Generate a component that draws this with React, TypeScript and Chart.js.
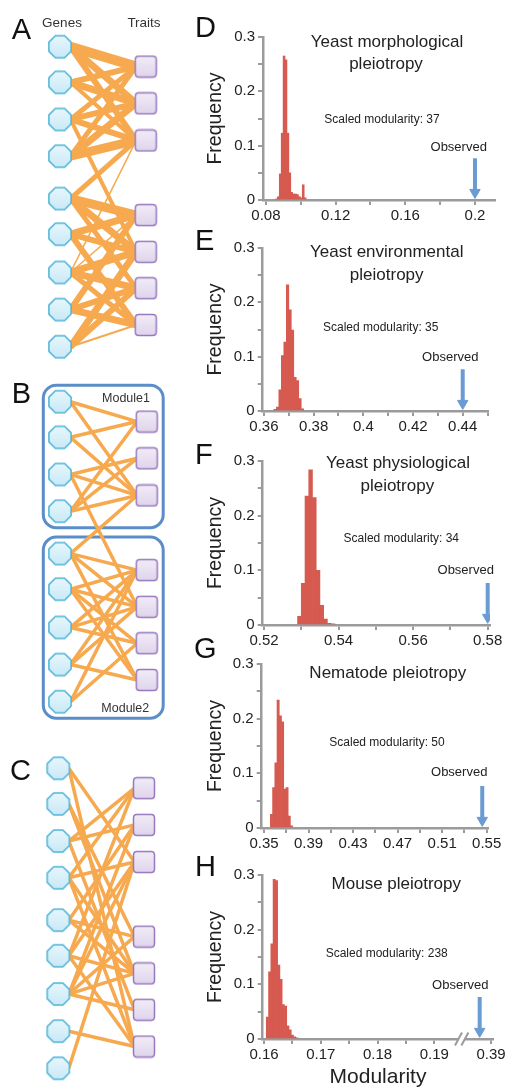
import React, { useEffect, useRef } from 'react';
import { Chart, registerables } from 'chart.js';

Chart.register(...registerables);

const FONT = '"Liberation Sans", Arial, Helvetica, sans-serif';
Chart.defaults.font.family = FONT;

// ---------------- Network data (panels A, B, C) ----------------
const geneSlots = [0, 0.95, 1.94, 2.92, 4.05, 5.0, 6.02, 7.01, 8.0];
const traitSlots = [0.53, 1.51, 2.5, 4.49, 5.47, 6.44, 7.42];

// [gene, trait, weight]
const edgesA = [
  [0, 0, 10], [0, 1, 7], [0, 2, 6],
  [1, 0, 6], [1, 1, 7], [1, 2, 4],
  [2, 0, 5], [2, 1, 6], [2, 2, 6], [2, 4, 4],
  [3, 0, 5], [3, 1, 7], [3, 2, 9],
  [4, 2, 5], [4, 3, 9], [4, 4, 7], [4, 5, 5],
  [5, 3, 7], [5, 4, 6], [5, 6, 6],
  [6, 2, 1.5], [6, 3, 1.5], [6, 4, 7], [6, 5, 7], [6, 6, 5],
  [7, 3, 6], [7, 5, 6], [7, 6, 7],
  [8, 4, 7], [8, 5, 6], [8, 6, 2],
];
// [gene, trait]
const edgesB = [
  [0, 0], [0, 2], [1, 0], [1, 2], [2, 1], [2, 2], [2, 4], [3, 0], [3, 1], [3, 2],
  [4, 2], [4, 3], [4, 4], [4, 6],
  [5, 3], [5, 4], [5, 5], [5, 6],
  [6, 3], [6, 4], [6, 5],
  [7, 3], [7, 4], [7, 6],
  [8, 3], [8, 5],
];
const edgesC = [
  [0, 2], [0, 6],
  [1, 3], [1, 4],
  [2, 0], [2, 1], [2, 5],
  [3, 0], [3, 2], [3, 4], [3, 6],
  [4, 1], [4, 3], [4, 4],
  [5, 0], [5, 2], [5, 4], [5, 6],
  [6, 1], [6, 2], [6, 3], [6, 4], [6, 5],
  [7, 6],
  [8, 2],
];
const modulesB = [[0, 3], [4, 8]];

// ---------------- Histogram data (panels D-H) ----------------
const binsD = [0.0860, 0.0871, 0.0882, 0.0893, 0.0904, 0.0915, 0.0926, 0.0937, 0.0948, 0.0959, 0.0970, 0.0981, 0.0992, 0.1003, 0.1014, 0.1025];
const freqD = [0.002, 0.006, 0.048, 0.123, 0.265, 0.258, 0.123, 0.05, 0.014, 0.011, 0.011, 0.010, 0.006, 0.004, 0.028, 0.004];

const binsE = [0.3645, 0.3655, 0.3665, 0.3675, 0.3685, 0.3695, 0.3705, 0.3715, 0.3725, 0.3735, 0.3745, 0.3755];
const freqE = [0.003, 0.007, 0.039, 0.102, 0.127, 0.232, 0.186, 0.149, 0.062, 0.056, 0.023, 0.004];

const binsF = [0.5295, 0.5305, 0.5315, 0.5325, 0.5335, 0.5345, 0.5355, 0.5365, 0.5375, 0.5385];
const freqF = [0.016, 0.076, 0.236, 0.284, 0.233, 0.10, 0.036, 0.011, 0.003, 0.002];

const binsG = [0.3567, 0.3587, 0.3607, 0.3627, 0.3647, 0.3667, 0.3687, 0.3707, 0.3727, 0.3747];
const freqG = [0.025, 0.074, 0.119, 0.234, 0.205, 0.194, 0.071, 0.074, 0.022, 0.004];

const binsH = [0.1606, 0.1610, 0.1614, 0.1618, 0.1622, 0.1626, 0.1630, 0.1634, 0.1638, 0.1642, 0.1646, 0.1650, 0.1654, 0.1658];
const freqH = [0.040, 0.123, 0.174, 0.292, 0.290, 0.135, 0.109, 0.063, 0.060, 0.024, 0.017, 0.007, 0.004, 0.002];

const observedD = 0.2;
const observedE = 0.44;
const observedF = 0.58;
const observedG = 0.546;
const observedH = 0.198; // drawn right of the axis break (actual ~0.387)
const arrowTop = 0.077;
const arrowHeadY = 0.014;

const yTickValues = [0, 0.05, 0.1, 0.15, 0.2, 0.25, 0.3];
const yTickLabels = ['0', '', '0.1', '', '0.2', '', '0.3'];

const xTicksD = [0.08, 0.1, 0.12, 0.14, 0.16, 0.18, 0.2];
const xLabelsD = ['0.08', '', '0.12', '', '0.16', '', '0.2'];
const xTicksE = [0.36, 0.37, 0.38, 0.39, 0.4, 0.41, 0.42, 0.43, 0.44, 0.45];
const xLabelsE = ['0.36', '', '0.38', '', '0.4', '', '0.42', '', '0.44', ''];
const xTicksF = [0.52, 0.53, 0.54, 0.55, 0.56, 0.57, 0.58];
const xLabelsF = ['0.52', '', '0.54', '', '0.56', '', '0.58'];
const xTicksG = [0.35, 0.37, 0.39, 0.41, 0.43, 0.45, 0.47, 0.49, 0.51, 0.53, 0.55];
const xLabelsG = ['0.35', '', '0.39', '', '0.43', '', '0.47', '', '0.51', '', '0.55'];
const xTicksH = [0.16, 0.165, 0.17, 0.175, 0.18, 0.185, 0.19, 0.2];
const xLabelsH = ['0.16', '', '0.17', '', '0.18', '', '0.19', '0.39'];
const breakH = 0.19483;

// ---------------- Styles ----------------
const ORANGE = '#f6a94e';
const RED = '#d65a4f';
const BLUE = '#6a9bd3';
const AXIS = '#9b9b9b';
const TEXT = '#222222';
const BOX = '#5b8ec8';

type TextItem = { text: string; x: number; y: number; size: number; align?: CanvasTextAlign; color?: string };

function textPlugin(items: TextItem[], ox: number, oy: number) {
  return {
    id: 'pageTexts',
    afterDraw(chart: any) {
      const ctx = chart.ctx as CanvasRenderingContext2D;
      ctx.save();
      ctx.textBaseline = 'alphabetic';
      for (const t of items) {
        ctx.font = `${t.size}px ${FONT}`;
        ctx.fillStyle = t.color || TEXT;
        ctx.textAlign = t.align || 'center';
        ctx.fillText(t.text, t.x - ox, t.y - oy);
      }
      ctx.restore();
    },
  };
}

function makeOctagon(): HTMLCanvasElement {
  const s = 26;
  const c = document.createElement('canvas');
  c.width = s; c.height = s;
  const ctx = c.getContext('2d')!;
  const r = 12, cx = s / 2, cy = s / 2;
  ctx.beginPath();
  for (let i = 0; i < 8; i++) {
    const a = Math.PI / 8 + (i * Math.PI) / 4;
    const px = cx + r * Math.cos(a), py = cy + r * Math.sin(a);
    if (i === 0) ctx.moveTo(px, py); else ctx.lineTo(px, py);
  }
  ctx.closePath();
  const g = ctx.createLinearGradient(0, 0, 0, s);
  g.addColorStop(0, '#eaf8fd');
  g.addColorStop(1, '#c6e8f6');
  ctx.fillStyle = g;
  ctx.fill();
  ctx.lineWidth = 1.5;
  ctx.strokeStyle = '#4fb4d7';
  ctx.stroke();
  return c;
}

function makeSquare(): HTMLCanvasElement {
  const s = 24;
  const c = document.createElement('canvas');
  c.width = s; c.height = s;
  const ctx = c.getContext('2d')!;
  const x = 1.5, y = 1.5, w = 21, h = 21, r = 3.5;
  ctx.beginPath();
  ctx.moveTo(x + r, y);
  ctx.lineTo(x + w - r, y);
  ctx.quadraticCurveTo(x + w, y, x + w, y + r);
  ctx.lineTo(x + w, y + h - r);
  ctx.quadraticCurveTo(x + w, y + h, x + w - r, y + h);
  ctx.lineTo(x + r, y + h);
  ctx.quadraticCurveTo(x, y + h, x, y + h - r);
  ctx.lineTo(x, y + r);
  ctx.quadraticCurveTo(x, y, x + r, y);
  ctx.closePath();
  const g = ctx.createLinearGradient(0, 0, 0, s);
  g.addColorStop(0, '#f3eef8');
  g.addColorStop(1, '#ded3eb');
  ctx.fillStyle = g;
  ctx.fill();
  ctx.lineWidth = 1.5;
  ctx.strokeStyle = '#9779be';
  ctx.stroke();
  return c;
}

type NetLayout = { left: number; top: number; width: number; height: number; genePx: number; traitPx: number; slot0Px: number; slotPx: number };

function roundRect(ctx: CanvasRenderingContext2D, x: number, y: number, w: number, h: number, r: number) {
  ctx.beginPath();
  ctx.moveTo(x + r, y);
  ctx.arcTo(x + w, y, x + w, y + h, r);
  ctx.arcTo(x + w, y + h, x, y + h, r);
  ctx.arcTo(x, y + h, x, y, r);
  ctx.arcTo(x, y, x + w, y, r);
  ctx.closePath();
}

function networkConfig(edges: number[][], lay: NetLayout, defaultWidth: number, texts: TextItem[], modules?: number[][]) {
  const xPer = lay.traitPx - lay.genePx;
  const xMin = (lay.left - lay.genePx) / xPer;
  const xMax = (lay.left + lay.width - lay.genePx) / xPer;
  const yMin = (lay.top - lay.slot0Px) / lay.slotPx;
  const yMax = (lay.top + lay.height - lay.slot0Px) / lay.slotPx;
  const geneAnchor = 10.5 / xPer;
  const traitAnchor = 1 - 9.5 / xPer;

  const edgeSets = edges.map((e) => ({
    type: 'scatter',
    data: [{ x: geneAnchor, y: geneSlots[e[0]] }, { x: traitAnchor, y: traitSlots[e[1]] }],
    showLine: true,
    borderColor: ORANGE,
    borderWidth: e[2] !== undefined ? e[2] : defaultWidth,
    borderCapStyle: 'butt',
    pointRadius: 0,
    tension: 0,
    order: 1,
    clip: false,
  }));

  const oct = makeOctagon();
  const sq = makeSquare();

  const plugins: any[] = [textPlugin(texts, lay.left, lay.top)];
  if (modules) {
    plugins.push({
      id: 'moduleBoxes',
      beforeDatasetsDraw(chart: any) {
        const ctx = chart.ctx as CanvasRenderingContext2D;
        const xs = chart.scales.x, ys = chart.scales.y;
        ctx.save();
        ctx.strokeStyle = BOX;
        ctx.lineWidth = 3;
        for (const m of modules) {
          const l = xs.getPixelForValue(0) - 16.7;
          const r = xs.getPixelForValue(1) + 16.5;
          const t = ys.getPixelForValue(geneSlots[m[0]]) - 16.5;
          const b = ys.getPixelForValue(geneSlots[m[1]]) + 16.5;
          roundRect(ctx, l, t, r - l, b - t, 13);
          ctx.stroke();
        }
        ctx.restore();
      },
    });
  }

  return {
    type: 'scatter',
    data: {
      datasets: [
        { data: geneSlots.map((y) => ({ x: 0, y })), pointStyle: oct, pointRadius: 11, order: 0, clip: false },
        { data: traitSlots.map((y) => ({ x: 1, y })), pointStyle: sq, pointRadius: 11, order: 0, clip: false },
        ...edgeSets,
      ],
    },
    options: {
      responsive: false,
      animation: false,
      events: [],
      layout: { padding: 0, autoPadding: false },
      plugins: { legend: { display: false }, tooltip: { enabled: false } },
      scales: {
        x: { type: 'linear', display: false, min: xMin, max: xMax },
        y: { type: 'linear', display: false, reverse: true, min: yMin, max: yMax },
      },
    },
    plugins,
  };
}

type HistPanel = {
  bins: number[]; freq: number[]; observed: number;
  xMin: number; xMax: number; xTicks: number[]; xLabels: string[];
  plotTop: number; plotBottom: number; plotLeft: number; plotRight: number;
  texts: TextItem[]; xTitle?: string; breakAt?: number;
};

const CANVAS_LEFT = 190;
const CANVAS_W = 324;
const TOP_PAD = 37;
const LEFT_PAD = 15.5;

function histGeometry(p: HistPanel) {
  const xAxisH = p.xTitle ? 49 : 25;
  const top = p.plotTop - TOP_PAD;
  const height = Math.ceil(TOP_PAD + (p.plotBottom - p.plotTop) + xAxisH + 1);
  return { left: CANVAS_LEFT, top, width: CANVAS_W, height, xAxisH };
}

function histConfig(p: HistPanel) {
  const g = histGeometry(p);
  const yAxisW = p.plotLeft - CANVAS_LEFT - LEFT_PAD;
  const padRight = CANVAS_LEFT + CANVAS_W - p.plotRight;
  const plugins: any[] = [textPlugin(p.texts, g.left, g.top)];
  if (p.breakAt !== undefined) {
    const bv = p.breakAt;
    plugins.push({
      id: 'axisBreak',
      afterDraw(chart: any) {
        const ctx = chart.ctx as CanvasRenderingContext2D;
        const cx = chart.scales.x.getPixelForValue(bv);
        const y = chart.chartArea.bottom;
        ctx.save();
        ctx.fillStyle = '#ffffff';
        ctx.fillRect(cx - 3, y - 3, 6, 6);
        ctx.strokeStyle = AXIS;
        ctx.lineWidth = 2;
        for (const dx of [-3.2, 3.2]) {
          ctx.beginPath();
          ctx.moveTo(cx + dx - 3.5, y + 6.5);
          ctx.lineTo(cx + dx + 3.5, y - 6.5);
          ctx.stroke();
        }
        ctx.restore();
      },
    });
  }
  return {
    type: 'bar',
    data: {
      datasets: [
        {
          type: 'bar',
          data: p.bins.map((x, i) => ({ x, y: p.freq[i] })),
          backgroundColor: RED,
          borderWidth: 0,
          barPercentage: 1,
          categoryPercentage: 1,
        },
        {
          type: 'line',
          data: [{ x: p.observed, y: arrowTop }, { x: p.observed, y: arrowHeadY + 0.005 }],
          borderColor: BLUE,
          borderWidth: 4,
          borderCapStyle: 'butt',
          pointRadius: 0,
        },
        {
          type: 'line',
          data: [{ x: p.observed, y: arrowHeadY }],
          showLine: false,
          pointStyle: 'triangle',
          rotation: 180,
          pointRotation: 180,
          pointRadius: 6,
          pointBackgroundColor: BLUE,
          pointBorderColor: BLUE,
          pointBorderWidth: 1,
        },
      ],
    },
    options: {
      responsive: false,
      animation: false,
      events: [],
      layout: { padding: { top: TOP_PAD, left: LEFT_PAD, right: padRight, bottom: 0 }, autoPadding: false },
      plugins: { legend: { display: false }, tooltip: { enabled: false } },
      scales: {
        x: {
          type: 'linear',
          min: p.xMin,
          max: p.xMax,
          offset: false,
          afterBuildTicks: (s: any) => { s.ticks = p.xTicks.map((v) => ({ value: v })); },
          afterFit: (s: any) => { s.height = g.xAxisH; },
          ticks: {
            callback: (_v: any, i: number) => p.xLabels[i],
            autoSkip: false,
            maxRotation: 0,
            minRotation: 0,
            font: { size: 15 },
            color: TEXT,
            padding: 2,
          },
          grid: { drawOnChartArea: false, drawTicks: true, tickLength: 5, color: AXIS, lineWidth: 2, offset: false },
          border: { color: AXIS, width: 2.5 },
          title: p.xTitle
            ? { display: true, text: p.xTitle, font: { size: 21, lineHeight: 1 }, color: TEXT, padding: 0 }
            : { display: false },
        },
        y: {
          type: 'linear',
          min: 0,
          max: 0.3,
          afterBuildTicks: (s: any) => { s.ticks = yTickValues.map((v) => ({ value: v })); },
          afterFit: (s: any) => { s.width = yAxisW; },
          ticks: {
            callback: (_v: any, i: number) => yTickLabels[i],
            autoSkip: false,
            font: { size: 15 },
            color: TEXT,
            padding: 3,
          },
          grid: { drawOnChartArea: false, drawTicks: true, tickLength: 5, color: AXIS, lineWidth: 2 },
          border: { color: AXIS, width: 2.5 },
          title: { display: true, text: 'Frequency', font: { size: 19.5, lineHeight: 1 }, color: TEXT, padding: 0 },
        },
      },
    },
    plugins,
  };
}

const LETTER = 29;
const histPanels: HistPanel[] = [
  {
    bins: binsD, freq: freqD, observed: observedD, xMin: 0.0783, xMax: 0.2115, xTicks: xTicksD, xLabels: xLabelsD,
    plotTop: 37, plotBottom: 199, plotLeft: 263, plotRight: 495,
    texts: [
      { text: 'D', x: 195, y: 36.7, size: LETTER, align: 'left', color: '#111' },
      { text: 'Yeast morphological', x: 387, y: 46.7, size: 17 },
      { text: 'pleiotropy', x: 386, y: 69.3, size: 17 },
      { text: 'Scaled modularity: 37', x: 382, y: 122.7, size: 12 },
      { text: 'Observed', x: 458.7, y: 150.7, size: 13 },
    ],
  },
  {
    bins: binsE, freq: freqE, observed: observedE, xMin: 0.3595, xMax: 0.4503, xTicks: xTicksE, xLabels: xLabelsE,
    plotTop: 248.3, plotBottom: 410, plotLeft: 262.7, plotRight: 488.3,
    texts: [
      { text: 'E', x: 195, y: 250, size: LETTER, align: 'left', color: '#111' },
      { text: 'Yeast environmental', x: 386.7, y: 257.7, size: 17 },
      { text: 'pleiotropy', x: 386.7, y: 280, size: 17 },
      { text: 'Scaled modularity: 35', x: 380.7, y: 331.7, size: 12 },
      { text: 'Observed', x: 450.3, y: 361.7, size: 13 },
    ],
  },
  {
    bins: binsF, freq: freqF, observed: observedF, xMin: 0.51965, xMax: 0.58062, xTicks: xTicksF, xLabels: xLabelsF,
    plotTop: 460.7, plotBottom: 622.7, plotLeft: 262.7, plotRight: 490,
    texts: [
      { text: 'F', x: 195, y: 463.3, size: LETTER, align: 'left', color: '#111' },
      { text: 'Yeast physiological', x: 398, y: 467.7, size: 17 },
      { text: 'pleiotropy', x: 397.3, y: 490.7, size: 17 },
      { text: 'Scaled modularity: 34', x: 401.3, y: 541.7, size: 12 },
      { text: 'Observed', x: 465.7, y: 574, size: 13 },
    ],
  },
  {
    bins: binsG, freq: freqG, observed: observedG, xMin: 0.34793, xMax: 0.55144, xTicks: xTicksG, xLabels: xLabelsG,
    plotTop: 664.3, plotBottom: 826.7, plotLeft: 261.7, plotRight: 488.3,
    texts: [
      { text: 'G', x: 194, y: 658.3, size: LETTER, align: 'left', color: '#111' },
      { text: 'Nematode pleiotropy', x: 387.8, y: 678.3, size: 17 },
      { text: 'Scaled modularity: 50', x: 387, y: 746.7, size: 12 },
      { text: 'Observed', x: 459.2, y: 776.7, size: 13 },
    ],
  },
  {
    bins: binsH, freq: freqH, observed: observedH, xMin: 0.15977, xMax: 0.2004, xTicks: xTicksH, xLabels: xLabelsH,
    plotTop: 875, plotBottom: 1037.3, plotLeft: 262.7, plotRight: 493.3,
    xTitle: 'Modularity', breakAt: breakH,
    texts: [
      { text: 'H', x: 195, y: 876, size: LETTER, align: 'left', color: '#111' },
      { text: 'Mouse pleiotropy', x: 396.3, y: 889.3, size: 17 },
      { text: 'Scaled modularity: 238', x: 386.7, y: 957.3, size: 12 },
      { text: 'Observed', x: 460.3, y: 989.3, size: 13 },
    ],
  },
];

const netA: NetLayout = { left: 0, top: 0, width: 190, height: 372, genePx: 60, traitPx: 145.7, slot0Px: 46.7, slotPx: 37.5 };
const netB: NetLayout = { left: 0, top: 372, width: 190, height: 366, genePx: 60, traitPx: 146.7, slot0Px: 401.7, slotPx: 37.5 };
const netC: NetLayout = { left: 0, top: 738, width: 190, height: 351, genePx: 58.3, traitPx: 144, slot0Px: 768.3, slotPx: 37.5 };

const textsA: TextItem[] = [
  { text: 'A', x: 11.7, y: 39.3, size: LETTER, align: 'left', color: '#111' },
  { text: 'Genes', x: 62, y: 26.7, size: 13.5, color: '#333' },
  { text: 'Traits', x: 144, y: 26.7, size: 13.5, color: '#333' },
];
const textsB: TextItem[] = [
  { text: 'B', x: 11.7, y: 403.3, size: LETTER, align: 'left', color: '#111' },
  { text: 'Module1', x: 126, y: 401.7, size: 12.5, color: '#333' },
  { text: 'Module2', x: 125.3, y: 711.7, size: 12.5, color: '#333' },
];
const textsC: TextItem[] = [
  { text: 'C', x: 10, y: 780, size: LETTER, align: 'left', color: '#111' },
];

function ChartCanvas({ left, top, width, height, build }: { left: number; top: number; width: number; height: number; build: () => any }) {
  const ref = useRef<HTMLCanvasElement>(null);
  useEffect(() => {
    const chart = new Chart(ref.current as HTMLCanvasElement, build());
    return () => chart.destroy();
  }, []);
  return (
    <canvas
      ref={ref}
      width={width}
      height={height}
      style={{ position: 'absolute', left, top, width, height, display: 'block' }}
    />
  );
}

export default function App() {
  return (
    <div style={{ position: 'absolute', left: 0, top: 0, width: 514, height: 1089, background: '#ffffff', overflow: 'hidden' }}>
      <ChartCanvas {...netA} build={() => networkConfig(edgesA, netA, 3.5, textsA)} />
      <ChartCanvas {...netB} build={() => networkConfig(edgesB, netB, 3.5, textsB, modulesB)} />
      <ChartCanvas {...netC} build={() => networkConfig(edgesC, netC, 3.5, textsC)} />
      {histPanels.map((p, i) => {
        const g = histGeometry(p);
        return <ChartCanvas key={i} left={g.left} top={g.top} width={g.width} height={g.height} build={() => histConfig(p)} />;
      })}
    </div>
  );
}
